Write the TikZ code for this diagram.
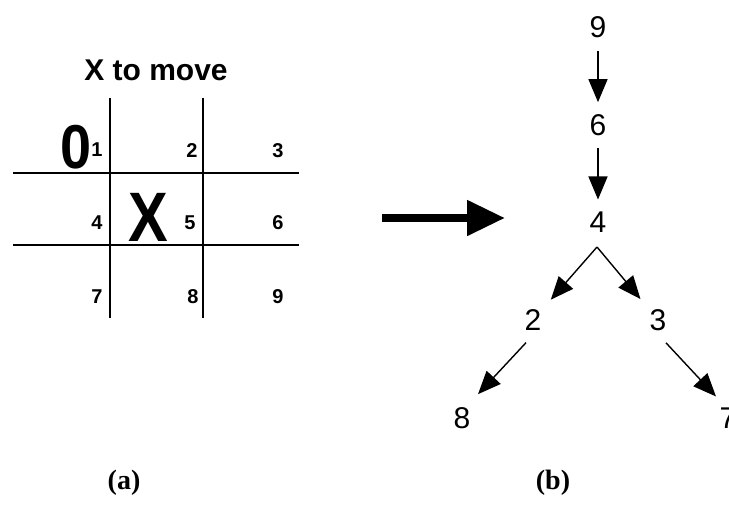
\documentclass[tikz,border=0pt]{standalone}
\usepackage{fontspec}
\setmainfont{Liberation Serif}
\setsansfont{Liberation Sans}
\usetikzlibrary{arrows.meta}

\begin{document}
\begin{tikzpicture}[x=1pt,y=-1pt,
    cell/.style={inner sep=0pt,font=\sffamily\bfseries\fontsize{20}{20}\selectfont},
    choice/.style={inner sep=0pt,font=\sffamily\fontsize{30}{30}\selectfont},
    tag/.style={inner sep=0pt,font=\bfseries\fontsize{28}{28}\selectfont},
    edge/.style={line width=1.4pt,-{Triangle[length=23pt,width=19pt]}}]
\useasboundingbox (0,0) rectangle (729,515);
% (a) the board
\node[inner sep=0pt,font=\sffamily\bfseries\fontsize{30}{30}\selectfont] (title) at (156,70) {X to move};
\draw[line width=2pt] (110,98) -- (110,318) (203,98) -- (203,318)
    (13,173) -- (299,173) (13,245) -- (299,245);
\foreach \n/\x/\y in {1/97/150,2/192/151,3/278/151,4/97/223,5/190/223,6/278/223,7/97/297,8/193/297,9/278/297}
    \node[cell] (c\n) at (\x,\y) {\n};
\node[inner sep=0pt,font=\sffamily\bfseries\fontsize{62}{62}\selectfont,xscale=.9] (o1) at (76,147) {0};
\node[inner sep=0pt,font=\sffamily\bfseries\fontsize{70}{70}\selectfont,xscale=.85] (x5) at (148,217) {X};
\node[tag] (a) at (124,483) {(a)};
% big arrow
\coordinate (from) at (382,218);
\coordinate (to) at (505,218);
\draw[line width=8pt,-{Triangle[length=38pt,width=34pt]}] (from) -- (to);
% (b) the tree
\node[choice] (p9) at (598,27) {9};
\node[choice] (p6) at (598,125) {6};
\node[choice] (p4) at (598,222) {4};
\node[choice] (p2) at (533,320) {2};
\node[choice] (p3) at (658,320) {3};
\node[choice] (p8) at (462,418) {8};
\node[choice] (p7) at (728,418) {7};
\coordinate (fork) at (597,247);
\draw[edge,shorten <=13pt,shorten >=12pt] (p9) -- (p6);
\draw[edge,shorten <=12pt,shorten >=12pt] (p6) -- (p4);
\draw[edge,shorten >=14pt] (fork) -- (p2);
\draw[edge,shorten >=14pt] (fork) -- (p3);
\draw[edge] ([xshift=-7pt,yshift=-12pt]p2.south) -- ([xshift=16pt,yshift=13pt]p8.north);
\draw[edge] ([xshift=8pt,yshift=-12pt]p3.south) -- ([xshift=-12pt,yshift=11pt]p7.north);
\node[tag] (b) at (553,483) {(b)};
\end{tikzpicture}
\end{document}
